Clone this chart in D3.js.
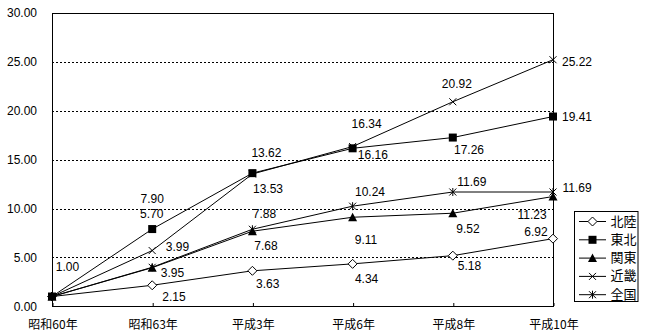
<!DOCTYPE html>
<html><head><meta charset="utf-8">
<script src="https://cdn.jsdelivr.net/npm/d3@7"></script>
<style>
body{margin:0;background:#fff;}
svg{display:block;}
text{fill:#000;}
</style></head><body>
<svg id="c" width="650" height="335"></svg>
<script>
const categories = ["昭和60年","昭和63年","平成3年","平成6年","平成8年","平成10年"];
const seriesNames = ["北陸","東北","関東","近畿","全国"];
const hokuriku = [1.00, 2.15, 3.63, 4.34, 5.18, 6.92];
const tohoku   = [1.00, 7.90, 13.62, 16.16, 17.26, 19.41];
const kanto    = [1.00, 3.95, 7.68, 9.11, 9.52, 11.23];
const kinki    = [1.00, 5.70, 13.53, 16.34, 20.92, 25.22];
const zenkoku  = [1.00, 3.99, 7.88, 10.24, 11.69, 11.69];
const yTicks = [0, 5, 10, 15, 20, 25, 30];

const seriesValues = [hokuriku, tohoku, kanto, kinki, zenkoku];
const markerTypes = ["diamond","square","triangle","cross","star"];
// data-label offsets (layout only), relative to each point
const labelOffsets = [
  [[15.5,-29.5],[21.8,11.5],[15.3,12.6],[14,14.5],[16.7,10.5],[-17,-6.8]],
  [null,[0,-30.6],[14,-20.5],[20.2,6],[16.2,12.2],[24,0.6]],
  [null,[20.3,5],[13.6,15],[13.4,23],[15.2,15.3],[-21,18]],
  [null,[-0.5,-37],[15.6,14.6],[14,-23],[4,-18],[24,2]],
  [null,[25.3,-20.5],[12,-15],[17.4,-14.3],[19,-10],[24,-4]]
];

const svg = d3.select("#c");
const L = 52, R = 553, T = 13, B = 306.3;
const x = d3.scalePoint().domain(categories).range([L, R]).padding(0);
const y = d3.scaleLinear().domain([0, 30]).range([B, T]);

const numFont = "'Liberation Sans', Arial, sans-serif";
const jpFont = "'Noto Sans CJK JP', sans-serif";

// gridlines
svg.append("g").selectAll("line").data(yTicks.filter(d => d > 0 && d < 30)).join("line")
  .attr("x1", L).attr("x2", R)
  .attr("y1", d => Math.round(y(d)) + 0.5).attr("y2", d => Math.round(y(d)) + 0.5)
  .attr("stroke", "#000").attr("stroke-width", 1).attr("stroke-dasharray", "2,2");

// frame
svg.append("rect").attr("x", L + 0.5).attr("y", Math.round(T) + 0.5)
  .attr("width", R - L).attr("height", Math.round(B) - Math.round(T))
  .attr("fill", "none").attr("stroke", "#000").attr("stroke-width", 1);

// y axis
const yAxis = d3.axisLeft(y).tickValues(yTicks).tickFormat(d3.format(".2f")).tickSize(0).tickPadding(15);
const yg = svg.append("g").attr("transform", `translate(${L},0)`).call(yAxis);
yg.select(".domain").remove();
yg.selectAll("text").attr("font-family", numFont).attr("font-size", 12);

// x axis
const xAxis = d3.axisBottom(x).tickSize(-3).tickPadding(13);
const xg = svg.append("g").attr("transform", `translate(0.5,${Math.round(B)})`).call(xAxis);
xg.select(".domain").remove();
xg.selectAll("line").attr("stroke", "#000");
xg.selectAll("text").attr("font-family", jpFont).attr("font-size", 12).attr("dy", "0.35em").attr("y", 19);

function marker(g, type, cx, cy) {
  if (type === "diamond") {
    g.append("path").attr("d", `M${cx},${cy-4.5}L${cx+4.5},${cy}L${cx},${cy+4.5}L${cx-4.5},${cy}Z`)
      .attr("fill", "#fff").attr("stroke", "#000").attr("stroke-width", 1);
  } else if (type === "square") {
    g.append("rect").attr("x", cx - 4).attr("y", cy - 4).attr("width", 8).attr("height", 8).attr("fill", "#000");
  } else if (type === "triangle") {
    g.append("path").attr("d", `M${cx},${cy-4.5}L${cx+4.5},${cy+4}L${cx-4.5},${cy+4}Z`).attr("fill", "#000");
  } else if (type === "cross") {
    g.append("path").attr("d", `M${cx-3.5},${cy-3.5}L${cx+3.5},${cy+3.5}M${cx-3.5},${cy+3.5}L${cx+3.5},${cy-3.5}`)
      .attr("stroke", "#000").attr("stroke-width", 1);
  } else if (type === "star") {
    g.append("path").attr("d", `M${cx-3.5},${cy-3.5}L${cx+3.5},${cy+3.5}M${cx-3.5},${cy+3.5}L${cx+3.5},${cy-3.5}M${cx},${cy-4}L${cx},${cy+4}`)
      .attr("stroke", "#000").attr("stroke-width", 1);
  }
}

const line = d3.line().x((d, i) => x(categories[i])).y(d => y(d));
const lineG = svg.append("g");
seriesValues.forEach(vals => {
  lineG.append("path").datum(vals).attr("d", line).attr("fill", "none").attr("stroke", "#000").attr("stroke-width", 1);
});
const markG = svg.append("g");
seriesValues.forEach((vals, s) => {
  vals.forEach((v, i) => marker(markG, markerTypes[s], x(categories[i]), y(v)));
});
const labG = svg.append("g").attr("font-family", numFont).attr("font-size", 12).attr("text-anchor", "middle");
seriesValues.forEach((vals, s) => {
  vals.forEach((v, i) => {
    const o = labelOffsets[s][i];
    if (!o) return;
    labG.append("text").attr("x", x(categories[i]) + o[0]).attr("y", y(v) + o[1])
      .attr("dy", "0.35em").text(d3.format(".2f")(v));
  });
});

// legend
const lg = svg.append("g");
lg.append("rect").attr("x", 574.5).attr("y", 211.5).attr("width", 63.5).attr("height", 90)
  .attr("fill", "#fff").attr("stroke", "#000").attr("stroke-width", 1);
seriesNames.forEach((n, s) => {
  const ly = 221 + s * 18.3;
  lg.append("line").attr("x1", 579).attr("x2", 606).attr("y1", ly + 0.5).attr("y2", ly + 0.5).attr("stroke", "#000");
  marker(lg, markerTypes[s], 592.5, ly + 0.5);
  lg.append("text").attr("x", 610.5).attr("y", ly).attr("dy", "0.35em")
    .attr("font-family", jpFont).attr("font-size", 13).text(n);
});
</script></body></html>
